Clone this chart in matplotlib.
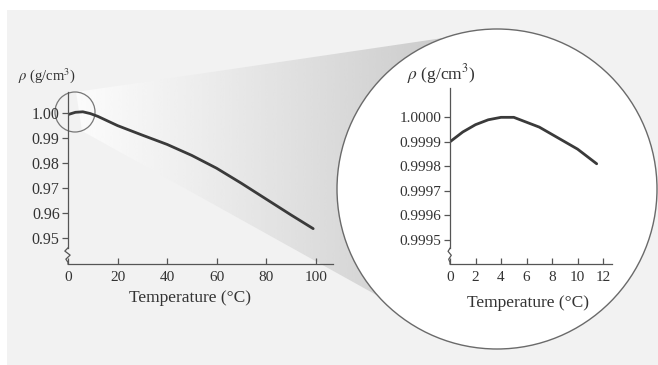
import numpy as np
import matplotlib
matplotlib.use("Agg")
import matplotlib.pyplot as plt
from matplotlib.patches import Circle, Polygon, Rectangle

plt.rcParams['font.family'] = ['Liberation Serif', 'DejaVu Serif']
plt.rcParams['mathtext.fontset'] = 'stix'

# main curve: density of water vs temperature
temp_main = [0, 3, 6, 9, 12, 20, 30, 40, 50, 60, 70, 80, 90, 99]
rho_main = [0.9993, 1.0002, 1.0004, 0.9997, 0.9986, 0.9949, 0.9911, 0.9874,
            0.9830, 0.9779, 0.9719, 0.9656, 0.9593, 0.9538]
main_xticks = [0, 20, 40, 60, 80, 100]
main_yticks = [0.95, 0.96, 0.97, 0.98, 0.99, 1.00]
main_yticklabels = ['0.95', '0.96', '0.97', '0.98', '0.99', '1.00']

# zoomed curve near the maximum
temp_zoom = [0, 1, 2, 3, 4, 5, 6, 7, 8, 9, 10, 11, 11.5]
rho_zoom = [0.99990, 0.99994, 0.99997, 0.99999, 1.00000, 1.00000, 0.99998,
            0.99996, 0.99993, 0.99990, 0.99987, 0.99983, 0.99981]
zoom_xticks = [0, 2, 4, 6, 8, 10, 12]
zoom_yticks = [0.9995, 0.9996, 0.9997, 0.9998, 0.9999, 1.0000]
zoom_yticklabels = ['0.9995', '0.9996', '0.9997', '0.9998', '0.9999', '1.0000']

ylabel = r'$\rho$ (g/cm$^3$)'
xlabel = 'Temperature (°C)'

W, H = 658, 365
fig = plt.figure(figsize=(W / 100, H / 100), dpi=100)
fig.patch.set_facecolor('white')

# background layer in pixel coordinates (y down)
bg = fig.add_axes([0, 0, 1, 1], zorder=0)
bg.axis('off')
bg.add_patch(Rectangle((7, 10), W, H, color='#f2f2f2', lw=0, zorder=1))

# magnifier "beam" from the small circle to the big one
c1 = (75.0, 112.0); r1 = 20.0
c2 = (497.0, 189.0); r2 = 160.0
cone = Polygon([(76, 92), (443, 38), c2, (380, 297), (82, 131)],
               closed=True, facecolor='none', edgecolor='none', zorder=1)
bg.add_patch(cone)
t = np.linspace(0, 1, 256)[None, :]
shade = 0.985 - 0.19 * t ** 1.1
img = bg.imshow(shade, extent=(75, 445, H, 0), cmap='gray', vmin=0, vmax=1,
                aspect='auto', interpolation='bicubic', zorder=2)
img.set_clip_path(cone)
bg.set_xlim(0, W)
bg.set_ylim(H, 0)

bg.add_patch(Circle(c2, r2, facecolor='white', edgecolor='#6a6a6a', lw=1.0, zorder=3))
bg.add_patch(Circle(c1, r1, facecolor='none', edgecolor='#777777', lw=0.9, zorder=3))

ink = '#333333'
axc = '#555555'


def style(ax, xticks, yticks, ylabels, brk, fs):
    ax.set_facecolor('none')
    for sp in ['top', 'right']:
        ax.spines[sp].set_visible(False)
    for sp in ['left', 'bottom']:
        ax.spines[sp].set_color(axc)
        ax.spines[sp].set_linewidth(0.9)
    ax.set_xticks(xticks)
    ax.set_yticks(yticks)
    ax.set_yticklabels(ylabels)
    ax.set_xticklabels([str(v) for v in xticks])
    ax.tick_params(axis='x', direction='in', length=4, width=0.9, colors=axc,
                   labelcolor=ink, labelsize=11, pad=5)
    ax.tick_params(axis='y', direction='out', length=4, width=0.9, colors=axc,
                   labelcolor=ink, labelsize=fs, pad=2)
    # axis break squiggle
    y0, ytop = ax.get_ylim()
    ax.spines['left'].set_bounds(y0 + brk * (ytop - y0), ytop)
    sx = [0, -0.012, 0.008, -0.008, 0.0, 0.0]
    sy = [brk, brk * 0.8, brk * 0.55, brk * 0.3, brk * 0.1, 0]
    ax.plot(sx, sy, color=axc, lw=0.9, transform=ax.transAxes, clip_on=False)


# main axes
ax = fig.add_axes([68 / W, 1 - 264 / H, (333 - 68) / W, (264 - 92) / H], zorder=2)
ax.plot(temp_main, rho_main, color='#3a3a3a', lw=2.0, solid_capstyle='round',
        solid_joinstyle='round')
ax.set_xlim(0, 107)
ax.set_ylim(0.9397, 1.0083)
style(ax, main_xticks, main_yticks, main_yticklabels, 0.094, 11.5)
fig.text(47 / W, 1 - 76 / H, ylabel, ha='center', va='center', fontsize=10.5, color=ink)
fig.text(190 / W, 1 - 298 / H, xlabel, ha='center', va='center', fontsize=12.5, color=ink)

# zoom axes
ax2 = fig.add_axes([450 / W, 1 - 264 / H, (612 - 450) / W, (264 - 88) / H], zorder=2)
ax2.plot(temp_zoom, rho_zoom, color='#3a3a3a', lw=2.0, solid_capstyle='round',
         solid_joinstyle='round')
ax2.set_xlim(0, 12.7)
ax2.set_ylim(0.99940, 1.00012)
style(ax2, zoom_xticks, zoom_yticks, zoom_yticklabels, 0.09, 11)
fig.text(441 / W, 1 - 74 / H, ylabel, ha='center', va='center', fontsize=12.5, color=ink)
fig.text(528 / W, 1 - 303 / H, xlabel, ha='center', va='center', fontsize=12.5, color=ink)

fig.savefig('out.png', dpi=100)
